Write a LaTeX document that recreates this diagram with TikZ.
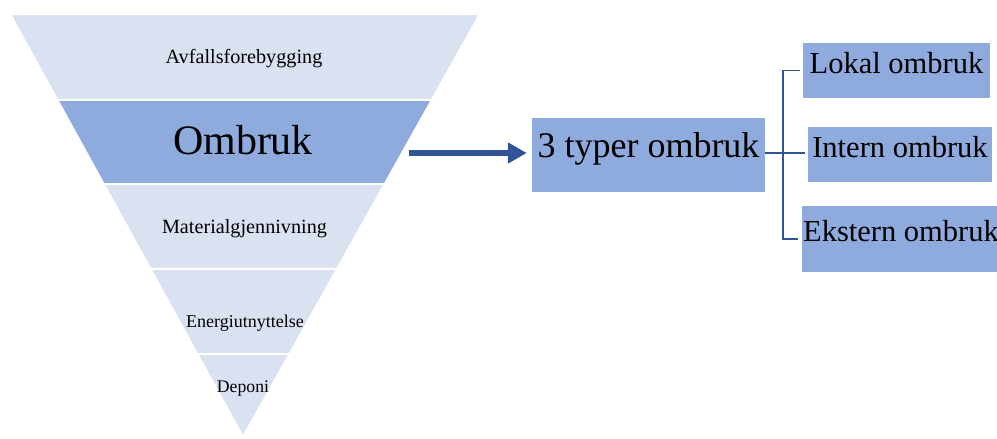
\documentclass[tikz,border=0pt]{standalone}
\usepackage{fontspec}
\setmainfont{Liberation Serif}
\usetikzlibrary{calc,arrows.meta}
\definecolor{bandlight}{HTML}{DAE1F1}
\definecolor{bandmid}{HTML}{8FAADC}
\definecolor{darkblue}{HTML}{2F5597}
\tikzset{
  band/.style={fill=bandlight, draw=white, line width=2pt, line join=miter},
  bandhi/.style={fill=bandmid, draw=white, line width=2pt},
  lbl/.style={anchor=base, inner sep=0pt, text=black},
  typbox/.style={fill=bandmid, draw=none, inner sep=0pt, text height=0.73em, text depth=0.17em, align=center},
  conn/.style={draw=darkblue, line width=1.6pt},
  bigarrow/.style={draw=darkblue, line width=5.5pt, -{Triangle[length=19pt,width=20pt]}}
}
\begin{document}
\begin{tikzpicture}[x=1pt,y=-1pt]
\useasboundingbox (0,0) rectangle (997,439);
\begin{scope}
\clip (0,0) rectangle (997,439);
% funnel corners
\coordinate (TL) at (10,14);
\coordinate (TR) at (480,14);
\coordinate (AP) at (243,437);
\coordinate (L1) at ($(TL)!0.2033!(AP)$);
\coordinate (R1) at ($(TR)!0.2033!(AP)$);
\coordinate (L2) at ($(TL)!0.4019!(AP)$);
\coordinate (R2) at ($(TR)!0.4019!(AP)$);
\coordinate (L3) at ($(TL)!0.6028!(AP)$);
\coordinate (R3) at ($(TR)!0.6028!(AP)$);
\coordinate (L4) at ($(TL)!0.8038!(AP)$);
\coordinate (R4) at ($(TR)!0.8038!(AP)$);
\path[band] (TL) -- (TR) -- (R1) -- (L1) -- cycle;
\path[bandhi] (L1) -- (R1) -- (R2) -- (L2) -- cycle;
\path[band] (L2) -- (R2) -- (R3) -- (L3) -- cycle;
\path[band] (L3) -- (R3) -- (R4) -- (L4) -- cycle;
\path[band] (L4) -- (R4) -- (AP) -- cycle;
% outer edge clean (remove white stroke on outer sides)
% labels
\node[lbl, font=\fontsize{20.2}{24}\selectfont] (avf) at (244,63) {Avfallsforebygging};
\node[lbl, font=\fontsize{42}{48}\selectfont] (omb) at (243,154) {Ombruk};
\node[lbl, font=\fontsize{20.2}{24}\selectfont] (mat) at (244.5,233) {Materialgjennivning};
\node[lbl, font=\fontsize{18}{22}\selectfont] (ene) at (245,327) {Energiutnyttelse};
\node[lbl, font=\fontsize{17.7}{21}\selectfont] (dep) at (243,392) {Deponi};
% right side boxes
\node[typbox, minimum width=233pt, minimum height=74pt, font=\fontsize{36}{40}\selectfont] (typ) at (648.5,155) {3 typer ombruk};
\node[typbox, minimum width=187pt, minimum height=55pt, font=\fontsize{30.5}{34}\selectfont] (lok) at (896.5,70.5) {Lokal ombruk};
\node[typbox, minimum width=184pt, minimum height=55pt, font=\fontsize{30.5}{34}\selectfont] (int) at (900,154.5) {Intern ombruk};
\node[typbox, minimum width=198pt, minimum height=66pt, font=\fontsize{30.5}{34}\selectfont] (eks) at (901,239) {Ekstern ombruk};
% arrow
\coordinate (astart) at (409,153);
\draw[bigarrow, shorten >=5pt] (astart) -- (typ.west |- astart);
% connectors
\coordinate (j) at (783,153);
\draw[conn] (typ.east |- j) -- (j);
\draw[conn, shorten <=3pt] (lok.west) -| (j);
\draw[conn, shorten >=4pt] (j) |- (eks.west);
\draw[conn, shorten >=3pt] (j) -- (int.west |- j);
\end{scope}
\end{tikzpicture}
\end{document}
